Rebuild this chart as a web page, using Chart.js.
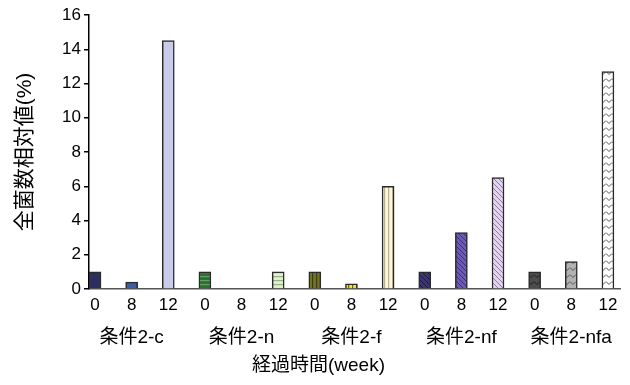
<!DOCTYPE html>
<html>
<head>
<meta charset="utf-8">
<script src="https://cdn.jsdelivr.net/npm/chart.js@4"></script>
<style>
  html, body { margin: 0; padding: 0; background: #fff; }
  #wrap { width: 630px; height: 385px; }
</style>
</head>
<body>
<div id="wrap"><canvas id="c" width="630" height="385"></canvas></div>
<script>
// Relative total bacterial count (%) per condition, at 0 / 8 / 12 weeks
const groups = ['条件2-c', '条件2-n', '条件2-f', '条件2-nf', '条件2-nfa'];
const weeks = ['0', '8', '12'];
const condC   = [1.0, 0.4, 14.5];
const condN   = [1.0, 0.0, 1.0];
const condF   = [1.0, 0.3, 6.0];
const condNF  = [1.0, 3.3, 6.5];
const condNFA = [1.0, 1.6, 12.7];
const yTicks  = [0, 2, 4, 6, 8, 10, 12, 14, 16];

const series = [condC, condN, condF, condNF, condNFA];

// Fill patterns for the bars
function makePattern(bg, fg, kind) {
  const cv = document.createElement('canvas');
  const ctx = cv.getContext('2d');
  let w = 4, h = 4;
  if (kind === 'diag') { w = 5; h = 5; }
  if (kind === 'zig') { w = 6; h = 7; }
  cv.width = w; cv.height = h;
  ctx.fillStyle = bg;
  ctx.fillRect(0, 0, w, h);
  ctx.strokeStyle = fg;
  ctx.fillStyle = fg;
  ctx.lineWidth = 1;
  if (kind === 'h') {
    ctx.fillRect(0, 0, w, 1.2);
  } else if (kind === 'v') {
    ctx.fillRect(0, 0, 1.2, h);
  } else if (kind === 'diag') {
    for (const x0 of [-w, 0, w]) {
      ctx.beginPath();
      ctx.moveTo(x0 - 1, -1);
      ctx.lineTo(x0 + w + 1, h + 1);
      ctx.stroke();
    }
  } else if (kind === 'zig') {
    ctx.beginPath();
    ctx.moveTo(0, 1.5);
    ctx.lineTo(3, 4.5);
    ctx.lineTo(6, 1.5);
    ctx.stroke();
  }
  return ctx.createPattern(cv, 'repeat');
}

const fills = [
  '#2c2e60', '#3c5ca8', '#c9cce8',
  makePattern('#2f6d33', '#62a064', 'h'), makePattern('#2f6d33', '#62a064', 'h'), makePattern('#e2efcf', '#93b486', 'h'),
  makePattern('#737328', '#3c3c12', 'v'), makePattern('#f2ea1c', '#6a6410', 'v'), makePattern('#fbf8dc', '#b8b090', 'v'),
  makePattern('#3b3570', '#1c1840', 'diag'), makePattern('#6c5ab4', '#3a2e78', 'diag'), makePattern('#e2d4ee', '#8c7ca0', 'diag'),
  makePattern('#4c4c4c', '#1e1e1e', 'zig'), makePattern('#b2b2b2', '#555555', 'zig'), makePattern('#ffffff', '#555555', 'zig')
];

const points = [];
series.forEach((vals, gi) => vals.forEach((v, wi) => points.push({ x: gi * 3 + wi, y: v })));

const FONT = '"Liberation Sans", "Noto Sans CJK JP", sans-serif';

// Condition names under each group of three bars, plus the axis caption
const groupLabels = {
  id: 'groupLabels',
  afterDraw(chart) {
    const { ctx, chartArea, scales: { x } } = chart;
    ctx.save();
    ctx.fillStyle = '#000';
    ctx.textAlign = 'center';
    ctx.textBaseline = 'middle';
    ctx.font = '19px ' + FONT;
    groups.forEach((g, i) => ctx.fillText(g, x.getPixelForValue(i * 3 + 1), chartArea.bottom + 49));
    ctx.font = '19px ' + FONT;
    ctx.fillText('経過時間(week)', x.getPixelForValue(6.1), chartArea.bottom + 77);
    ctx.restore();
  }
};

new Chart(document.getElementById('c'), {
  type: 'bar',
  data: {
    datasets: [{
      data: points,
      backgroundColor: fills,
      borderColor: '#2a2a2a',
      borderWidth: 1.5,
      barThickness: 12
    }]
  },
  options: {
    responsive: false,
    devicePixelRatio: 1,
    animation: false,
    layout: { padding: { top: 15, right: 10, left: 0, bottom: 0 } },
    plugins: { legend: { display: false }, tooltip: { enabled: false } },
    scales: {
      x: {
        type: 'linear',
        offset: false,
        min: -0.164,
        max: 14.33,
        afterBuildTicks(scale) {
          scale.ticks = points.map(p => ({ value: p.x }));
        },
        afterFit(scale) { scale.height = 96; },
        ticks: {
          autoSkip: false,
          maxRotation: 0,
          padding: 6,
          color: '#000',
          font: { family: FONT, size: 17 },
          callback: (v) => weeks[v % 3]
        },
        grid: { display: false, drawTicks: false },
        border: { display: true, color: '#555', width: 1.5 }
      },
      y: {
        min: 0,
        max: 16,
        afterBuildTicks(scale) {
          scale.ticks = yTicks.map(v => ({ value: v }));
        },
        afterFit(scale) { scale.width = 89; },
        ticks: {
          padding: 3,
          color: '#000',
          font: { family: FONT, size: 17 }
        },
        grid: { drawOnChartArea: false, drawTicks: true, tickLength: 5, color: '#000', lineWidth: 1.5 },
        border: { display: true, color: '#000', width: 1.5 },
        title: {
          display: true,
          text: '全菌数相対値(%)',
          color: '#000',
          font: { family: FONT, size: 21 },
          padding: { top: 13, bottom: 0 }
        }
      }
    }
  },
  plugins: [groupLabels]
});
</script>
</body>
</html>
